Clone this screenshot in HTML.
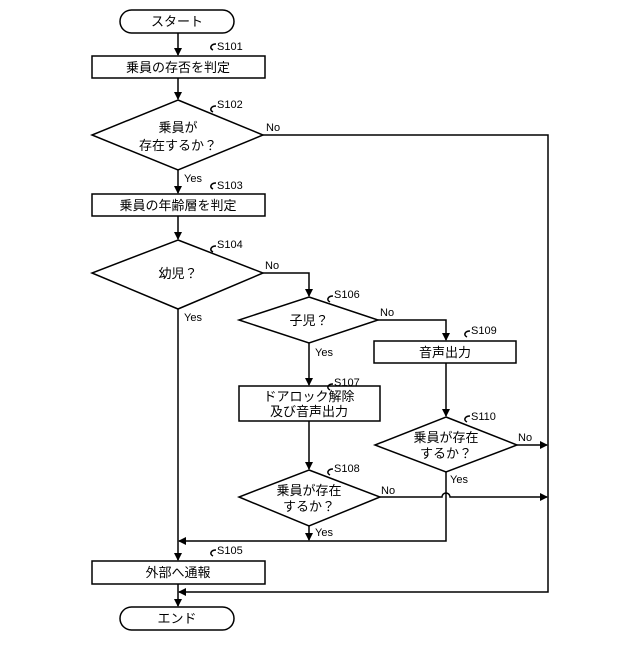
<!DOCTYPE html>
<html><head><meta charset="utf-8"><style>
html,body{margin:0;padding:0;background:#fff}
svg text{font-family:"Liberation Sans","Noto Sans CJK JP",sans-serif;fill:#000}
</style></head><body>
<svg width="640" height="640" viewBox="0 0 640 640" xmlns="http://www.w3.org/2000/svg">
<defs><marker id="a" markerWidth="8" markerHeight="8" refX="7" refY="4" orient="auto" markerUnits="userSpaceOnUse"><path d="M0,0 L8,4 L0,8 z" fill="#000"/></marker></defs>
<g stroke="#000" stroke-width="1.5" fill="#fff">
<rect x="120" y="10" width="114" height="23" rx="11.5"/>
<rect x="92" y="56" width="173" height="22"/>
<polygon points="178,100 263,135 178,170 92,135"/>
<rect x="92" y="194" width="173" height="22"/>
<polygon points="178,240 263,273 178,309 92,273"/>
<polygon points="309,297 378,320 309,343 239,320"/>
<rect x="374" y="341" width="142" height="22"/>
<rect x="239" y="386" width="141" height="35"/>
<polygon points="446,417 517,445 446,472 375,445"/>
<polygon points="309,470 380,497 309,526 239,497"/>
<rect x="92" y="561" width="173" height="23"/>
<rect x="120" y="607" width="114" height="23" rx="11.5"/>
</g>
<g stroke="#000" stroke-width="1.5" fill="none">
<line x1="178" y1="33" x2="178" y2="55" marker-end="url(#a)"/>
<line x1="178" y1="78" x2="178" y2="99" marker-end="url(#a)"/>
<line x1="178" y1="170" x2="178" y2="193" marker-end="url(#a)"/>
<line x1="178" y1="216" x2="178" y2="239" marker-end="url(#a)"/>
<line x1="178" y1="309" x2="178" y2="560" marker-end="url(#a)"/>
<line x1="178" y1="584" x2="178" y2="606" marker-end="url(#a)"/>
<polyline points="263,135 548,135 548,592 179,592" marker-end="url(#a)"/>
<polyline points="263,273 309,273 309,296" marker-end="url(#a)"/>
<polyline points="378,320 446,320 446,340" marker-end="url(#a)"/>
<line x1="309" y1="343" x2="309" y2="385" marker-end="url(#a)"/>
<line x1="446" y1="363" x2="446" y2="416" marker-end="url(#a)"/>
<line x1="309" y1="421" x2="309" y2="469" marker-end="url(#a)"/>
<line x1="517" y1="445" x2="547" y2="445" marker-end="url(#a)"/>
<path d="M380,497 L442,497 A4,4 0 0 1 450,497 L547,497" marker-end="url(#a)"/>
<line x1="309" y1="526" x2="309" y2="540" marker-end="url(#a)"/>
<polyline points="446,472 446,541 179,541" marker-end="url(#a)"/>
<path d="M213,50 c-4,-2 -2,-6 3,-6 M213,112 c-4,-2 -2,-6 3,-6 M213,189 c-4,-2 -2,-6 3,-6 M213,252 c-4,-2 -2,-6 3,-6 M330,302 c-4,-2 -2,-6 3,-6 M330,390 c-4,-2 -2,-6 3,-6 M330,475 c-4,-2 -2,-6 3,-6 M467,337 c-4,-2 -2,-6 3,-6 M467,422 c-4,-2 -2,-6 3,-6 M213,556 c-4,-2 -2,-6 3,-6"/>
</g>
<g font-size="13" text-anchor="middle">
<text x="177" y="26">スタート</text>
<text x="178" y="72">乗員の存否を判定</text>
<text x="178" y="132">乗員が</text>
<text x="178" y="150">存在するか？</text>
<text x="178" y="210">乗員の年齢層を判定</text>
<text x="178" y="278">幼児？</text>
<text x="309" y="325">子児？</text>
<text x="445" y="357">音声出力</text>
<text x="309" y="401">ドアロック解除</text>
<text x="309" y="416">及び音声出力</text>
<text x="446" y="442">乗員が存在</text>
<text x="446" y="458">するか？</text>
<text x="309" y="495">乗員が存在</text>
<text x="309" y="511">するか？</text>
<text x="178" y="577">外部へ通報</text>
<text x="177" y="623">エンド</text>
</g>
<g font-size="11">
<text x="217" y="50">S101</text>
<text x="217" y="108">S102</text>
<text x="217" y="189">S103</text>
<text x="217" y="248">S104</text>
<text x="334" y="298">S106</text>
<text x="471" y="334">S109</text>
<text x="334" y="386">S107</text>
<text x="471" y="420">S110</text>
<text x="334" y="472">S108</text>
<text x="217" y="554">S105</text>
<text x="266" y="131">No</text>
<text x="184" y="182">Yes</text>
<text x="265" y="269">No</text>
<text x="184" y="321">Yes</text>
<text x="380" y="316">No</text>
<text x="315" y="356">Yes</text>
<text x="518" y="441">No</text>
<text x="450" y="483">Yes</text>
<text x="381" y="494">No</text>
<text x="315" y="536">Yes</text>
</g>
</svg>
</body></html>
